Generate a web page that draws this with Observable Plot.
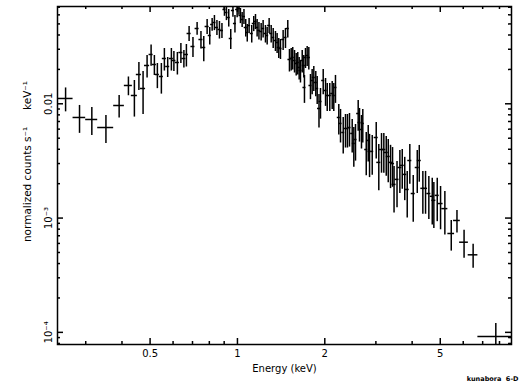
<!DOCTYPE html>
<html>
<head>
<meta charset="utf-8">
<script src="https://cdn.jsdelivr.net/npm/d3@7"></script>
<script src="https://cdn.jsdelivr.net/npm/@observablehq/plot@0.6"></script>
<style>
  html, body { margin: 0; padding: 0; background: white; }
  #chart svg { display: block; }
</style>
</head>
<body>
<div id="chart"></div>
<script>
// Energy bin centres (keV) and half widths
const energy = [0.2557,0.2856,0.3149,0.3522,0.3911,0.421,0.4414,0.4575,0.4729,0.4882,0.504,0.5173,0.5297,0.5468,0.56,0.5749,0.592,0.6039,0.6209,0.6384,0.6538,0.6669,0.6814,0.7026,0.7261,0.7486,0.7655,0.7862,0.8027,0.8181,0.833,0.8498,0.867,0.8843,0.902,0.9164,0.9333,0.9482,0.9649,0.9804,0.9976,1.012,1.024,1.038,1.053,1.068,1.081,1.097,1.12,1.138,1.154,1.169,1.186,1.207,1.226,1.249,1.266,1.286,1.307,1.328,1.352,1.37,1.388,1.407,1.437,1.464,1.491,1.511,1.532,1.551,1.573,1.594,1.614,1.632,1.649,1.672,1.693,1.702,1.716,1.739,1.762,1.785,1.809,1.833,1.862,1.883,1.91,1.933,1.975,2.012,2.039,2.081,2.121,2.148,2.177,2.235,2.266,2.315,2.357,2.394,2.433,2.486,2.518,2.552,2.607,2.634,2.676,2.704,2.779,2.823,2.853,2.914,3.008,3.07,3.137,3.195,3.257,3.309,3.37,3.424,3.465,3.548,3.629,3.698,3.772,3.847,3.927,4.035,4.166,4.233,4.355,4.449,4.567,4.692,4.752,4.882,5.012,5.186,5.456,5.709,6.04,6.49,7.77];
const energyErr = [0.0156,0.0143,0.015,0.0223,0.0166,0.0134,0.0106,0.0092,0.0095,0.0098,0.0081,0.0083,0.0085,0.0087,0.009,0.0092,0.0095,0.0097,0.0099,0.0102,0.0105,0.0107,0.0109,0.0112,0.0116,0.012,0.0122,0.0126,0.0096,0.0098,0.01,0.0102,0.0104,0.0106,0.0108,0.011,0.0112,0.0114,0.0116,0.0118,0.012,0.0121,0.0123,0.0125,0.0126,0.0128,0.013,0.0132,0.0134,0.0137,0.0138,0.014,0.0142,0.0145,0.0147,0.015,0.0152,0.0154,0.0157,0.0159,0.0162,0.0164,0.0167,0.0169,0.0172,0.0176,0.0179,0.0181,0.0184,0.0186,0.0189,0.0191,0.0194,0.0196,0.0198,0.02,0.0203,0.0204,0.0206,0.0209,0.0211,0.0214,0.0217,0.022,0.0223,0.0226,0.0229,0.0232,0.0237,0.0241,0.0245,0.025,0.0254,0.0258,0.0261,0.0268,0.0272,0.0278,0.0283,0.0287,0.0292,0.0298,0.0302,0.0306,0.0313,0.0316,0.0321,0.0324,0.0333,0.0339,0.0342,0.035,0.0481,0.0491,0.0502,0.0511,0.0521,0.0529,0.0539,0.0548,0.0554,0.0568,0.0581,0.0592,0.0604,0.0616,0.0628,0.0646,0.0667,0.0677,0.0697,0.0712,0.0731,0.0751,0.076,0.0781,0.1002,0.125,0.145,0.153,0.21,0.25,1.03];
// normalized counts s^-1 keV^-1 and 1-sigma errors
const flux = [0.01113,0.00759,0.00729,0.0062,0.00966,0.01446,0.01182,0.01804,0.01361,0.02163,0.027,0.02207,0.01804,0.01733,0.0249,0.0212,0.0249,0.02392,0.02298,0.02811,0.0249,0.027,0.04122,0.03172,0.04558,0.03652,0.03109,0.04746,0.03959,0.04941,0.05144,0.04651,0.04467,0.04378,0.06683,0.06292,0.05689,0.03727,0.06551,0.05041,0.06683,0.06821,0.05922,0.05465,0.05804,0.04651,0.04205,0.04842,0.04122,0.05041,0.05248,0.04651,0.04378,0.04291,0.04558,0.04122,0.03959,0.04842,0.04122,0.03802,0.03579,0.03438,0.03109,0.03046,0.03652,0.03802,0.04558,0.02441,0.0249,0.02541,0.02392,0.02252,0.02298,0.02078,0.01956,0.02392,0.02163,0.01389,0.02541,0.02646,0.02541,0.01446,0.01599,0.01699,0.01536,0.01361,0.0091,0.01047,0.01599,0.01307,0.01182,0.01182,0.0123,0.01182,0.01389,0.00759,0.00673,0.00561,0.00608,0.00608,0.0062,0.0055,0.0045,0.00487,0.00822,0.00686,0.00596,0.00673,0.00398,0.00478,0.00383,0.00383,0.00507,0.00307,0.00398,0.00398,0.00375,0.00346,0.00307,0.003,0.00197,0.00218,0.00277,0.00289,0.00241,0.00178,0.00319,0.00164,0.00277,0.00319,0.00182,0.00182,0.00164,0.00155,0.00143,0.00158,0.00134,0.00121,0.000733,0.000953,0.000615,0.000477,0.000092];
const fluxErr = [0.00263,0.00208,0.002,0.0017,0.00215,0.0027,0.00417,0.00494,0.00557,0.00482,0.0057,0.00439,0.00447,0.00518,0.00555,0.00422,0.00555,0.00476,0.00512,0.00559,0.00436,0.00602,0.00622,0.00631,0.00583,0.00639,0.00771,0.00717,0.00693,0.00632,0.00777,0.00702,0.00782,0.00661,0.00855,0.0095,0.00996,0.00742,0.00839,0.00882,0.01009,0.00873,0.00894,0.00825,0.00876,0.00814,0.00736,0.00731,0.00721,0.00761,0.00792,0.00814,0.00766,0.00751,0.00798,0.00721,0.00693,0.00731,0.00721,0.00757,0.00712,0.00684,0.00619,0.00606,0.00727,0.00757,0.00798,0.00544,0.00555,0.00567,0.00533,0.00502,0.00512,0.00463,0.00436,0.00533,0.00482,0.00381,0.00506,0.00527,0.00567,0.00359,0.00397,0.00421,0.00381,0.00373,0.00297,0.00313,0.00397,0.00358,0.00324,0.00324,0.00337,0.00324,0.00381,0.00227,0.00219,0.00198,0.00198,0.00198,0.00202,0.00179,0.00171,0.00172,0.00246,0.00224,0.00194,0.00219,0.00163,0.00169,0.00157,0.00146,0.00179,0.00134,0.00151,0.00151,0.00143,0.00142,0.00126,0.00114,0.00086,0.00095,0.00113,0.0011,0.00099,0.00078,0.00121,0.00072,0.00113,0.00113,0.00074,0.00074,0.00067,0.00068,0.00062,0.00065,0.00055,0.0005,0.000219,0.000213,0.000169,0.000113,0.0000275];

// axis ticks and labels
const xMajorTicks = [0.5, 1, 2, 5];
const xTickLabels = ["0.5", "1", "2", "5"];
const xMinorTicks = [0.3, 0.4, 0.6, 0.7, 0.8, 0.9, 3, 4, 6, 7, 8];
const yMajorTicks = [1e-4, 1e-3, 1e-2];
const yTickLabels = ["10\u207B\u2074", "10\u207B\u00B3", "0.01"];
const yMinorTicks = [8e-5, 9e-5, 2e-4, 3e-4, 4e-4, 5e-4, 6e-4, 7e-4, 8e-4, 9e-4,
                     2e-3, 3e-3, 4e-3, 5e-3, 6e-3, 7e-3, 8e-3, 9e-3,
                     0.02, 0.03, 0.04, 0.05, 0.06, 0.07];
const xTitle = "Energy (keV)";
const yTitle = "normalized counts s\u207B\u00B9\u00A0\u00A0\u00A0\u00A0\u00A0keV\u207B\u00B9";
const stamp = "kunabora  6-D";

const rows = energy.map((e, i) => ({e, de: energyErr[i], f: flux[i], df: fluxErr[i]}));

const W = 519, H = 382;
const mL = 57, mR = 8, mT = 6, mB = 38;
const fw = W - mL - mR, fh = H - mT - mB;
const majorLen = 6, minorLen = 3;
const sw = 1.5;

const chart = Plot.plot({
  width: W, height: H,
  marginLeft: mL, marginRight: mR, marginTop: mT, marginBottom: mB,
  x: {type: "log", domain: [0.2398, 8.8], axis: null},
  y: {type: "log", domain: [7.83e-5, 0.071], axis: null},
  style: {fontFamily: "DejaVu Sans, sans-serif", fontSize: "10px", background: "white", color: "black"},
  marks: [
    // data error bars
    Plot.ruleX(rows, {x: "e", y1: d => d.f - d.df, y2: d => d.f + d.df, stroke: "black", strokeWidth: sw, clip: true}),
    Plot.ruleY(rows, {y: "f", x1: d => d.e - d.de, x2: d => d.e + d.de, stroke: "black", strokeWidth: sw, clip: true}),
    // inward ticks
    Plot.tickX(xMajorTicks, {x: d => d, insetTop: fh - majorLen, stroke: "black", strokeWidth: sw}),
    Plot.tickX(xMajorTicks, {x: d => d, insetBottom: fh - majorLen, stroke: "black", strokeWidth: sw}),
    Plot.tickX(xMinorTicks, {x: d => d, insetTop: fh - minorLen, stroke: "black", strokeWidth: sw}),
    Plot.tickX(xMinorTicks, {x: d => d, insetBottom: fh - minorLen, stroke: "black", strokeWidth: sw}),
    Plot.tickY(yMajorTicks, {y: d => d, insetRight: fw - majorLen, stroke: "black", strokeWidth: sw}),
    Plot.tickY(yMajorTicks, {y: d => d, insetLeft: fw - majorLen, stroke: "black", strokeWidth: sw}),
    Plot.tickY(yMinorTicks, {y: d => d, insetRight: fw - minorLen, stroke: "black", strokeWidth: sw}),
    Plot.tickY(yMinorTicks, {y: d => d, insetLeft: fw - minorLen, stroke: "black", strokeWidth: sw}),
    Plot.frame({stroke: "black", strokeWidth: sw}),
    // tick labels
    Plot.text(xMajorTicks, {x: d => d, text: (d, i) => xTickLabels[i], frameAnchor: "bottom", lineAnchor: "middle", dy: 9.5, fill: "black"}),
    Plot.text(yMajorTicks, {y: d => d, text: (d, i) => yTickLabels[i], frameAnchor: "left", rotate: -90, textAnchor: "middle", lineAnchor: "middle", dx: -8.5, fill: "black"}),
    // axis titles
    Plot.text([xTitle], {frameAnchor: "bottom", lineAnchor: "middle", dy: 24, fill: "black"}),
    Plot.text([yTitle], {frameAnchor: "left", rotate: -90, textAnchor: "middle", lineAnchor: "middle", dx: -30, dy: -14, fontSize: 10.5, fill: "black"}),
    // stamp
    Plot.text([stamp], {frameAnchor: "bottom-right", textAnchor: "end", lineAnchor: "middle", dx: 7, dy: 34, fontSize: 6.5, fontWeight: "bold", fill: "black"})
  ]
});
document.getElementById("chart").appendChild(chart);
</script>
</body>
</html>
